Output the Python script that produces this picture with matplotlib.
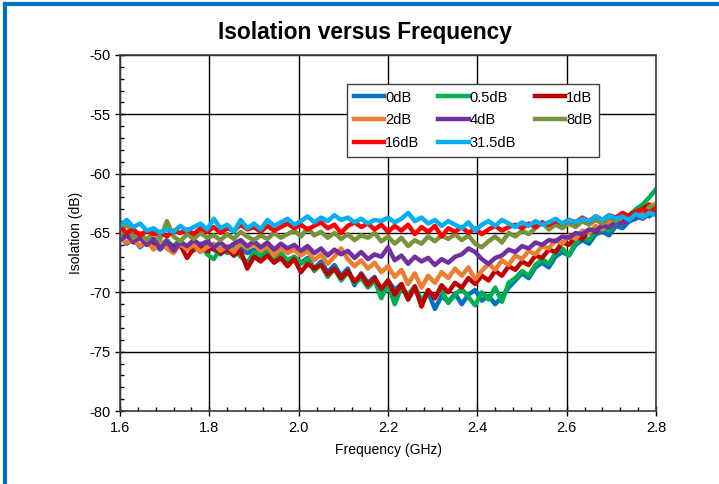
import numpy as np
import matplotlib.pyplot as plt
from matplotlib.lines import Line2D
from matplotlib.ticker import MultipleLocator

plt.rcParams['font.family'] = ['Liberation Sans', 'DejaVu Sans']
plt.rcParams['axes.unicode_minus'] = False

# frequency sweep (GHz)
freq = np.linspace(1.6, 2.8, 81)

iso_0db = [-65.3, -65.9, -65.5, -66.2, -65.7, -65.9, -66.4, -65.8, -66.1, -65.6,
           -66.3, -66.0, -66.6, -65.9, -66.4, -66.8, -66.2, -66.9, -66.3, -66.7,
           -66.4, -67.2, -66.6, -67.4, -66.8, -67.6, -67.0, -67.5, -67.1, -68.0,
           -67.4, -68.3, -67.7, -68.6, -68.0, -69.4, -68.4, -69.2, -68.7, -70.1,
           -69.0, -69.8, -69.3, -70.6, -69.6, -70.9, -70.0, -71.4, -70.3, -70.8,
           -70.1, -71.0, -70.2, -69.8, -70.7, -70.3, -71.0, -70.4, -69.6, -69.0,
           -68.4, -68.8, -67.9, -67.5, -67.9, -67.0, -66.6, -66.9, -66.0, -65.6,
           -65.9, -65.1, -64.9, -65.2, -64.4, -64.6, -64.0, -63.8, -63.3, -63.6, -63.1]

iso_05db = [-65.4, -65.0, -65.7, -65.3, -65.9, -65.5, -66.0, -65.6, -66.2, -65.8,
            -66.1, -66.5, -65.9, -66.8, -67.2, -66.3, -66.7, -66.2, -67.0, -67.5,
            -66.6, -66.9, -66.4, -67.1, -66.7, -67.3, -67.0, -67.6, -67.2, -68.2,
            -67.6, -68.7, -68.0, -69.0, -68.3, -69.2, -68.8, -69.6, -69.0, -70.5,
            -69.3, -71.0, -69.6, -70.2, -69.5, -70.7, -69.9, -70.4, -69.8, -70.9,
            -70.2, -69.7, -70.4, -71.1, -70.0, -70.6, -69.6, -70.8, -69.2, -68.8,
            -68.2, -68.6, -67.7, -67.2, -67.6, -66.7, -66.3, -66.9, -65.8, -65.3,
            -65.6, -64.8, -64.5, -64.8, -64.0, -64.2, -63.5, -63.0, -62.6, -62.0, -61.3]

iso_1db = [-65.6, -65.2, -65.8, -65.4, -66.0, -65.7, -66.1, -65.8, -66.2, -66.0,
           -67.1, -66.3, -66.1, -66.5, -66.2, -66.7, -66.4, -66.9, -66.5, -68.0,
           -67.0, -67.4, -66.9, -67.5, -67.1, -67.8, -67.2, -68.3, -67.6, -68.0,
           -67.7, -68.5, -68.0, -68.8, -68.2, -69.1, -68.5, -69.4, -68.8, -69.7,
           -69.0, -70.2, -69.3, -70.6, -69.5, -71.2, -69.8, -70.5, -69.4, -70.0,
           -69.2, -69.6, -68.8, -69.3, -68.6, -69.0, -68.2, -68.6, -67.8, -68.1,
           -67.4, -67.7, -66.9, -67.1, -66.4, -66.6, -65.8, -66.0, -65.3, -65.5,
           -64.8, -64.9, -64.3, -64.5, -63.9, -64.0, -63.5, -63.2, -63.0, -62.6, -62.8]

iso_2db = [-65.4, -65.8, -65.5, -66.1, -65.6, -66.4, -65.8, -66.3, -66.7, -65.9,
           -66.4, -66.0, -66.6, -66.2, -65.9, -66.5, -66.1, -66.6, -65.8, -66.3,
           -65.9, -66.5, -66.1, -66.9, -66.3, -66.7, -66.4, -66.9, -66.5, -67.3,
           -66.8, -67.6, -67.0, -66.3, -67.2, -67.8, -67.3, -68.0, -67.5, -68.3,
           -67.8, -68.7, -68.1, -69.3, -68.4, -69.6, -68.6, -69.2, -68.3, -68.8,
           -68.0, -68.6, -67.9, -68.9, -68.2, -67.6, -68.1, -67.3, -67.7, -66.9,
           -67.2, -66.5, -66.8, -66.1, -66.3, -65.6, -65.9, -65.2, -65.5, -64.8,
           -65.0, -64.4, -64.7, -64.0, -64.2, -63.6, -63.8, -63.2, -63.5, -62.8, -62.5]

iso_4db = [-65.6, -65.2, -65.7, -65.4, -66.0, -65.5, -66.3, -65.7, -66.5, -65.8,
           -66.1, -65.6, -66.0, -65.7, -66.2, -65.8, -66.3, -65.9, -65.6, -66.1,
           -65.7, -66.2, -65.8, -66.4, -65.9, -66.3, -66.0, -66.5, -66.1, -66.7,
           -66.3, -66.9, -66.4, -66.8, -66.5, -67.1, -66.6, -67.2, -66.8, -67.0,
           -66.2, -67.3, -66.9, -67.6, -67.0, -67.4, -67.1, -67.7, -67.2, -67.5,
           -67.0, -66.8, -66.3, -66.6, -67.2, -67.6, -67.1, -66.9, -66.4, -66.6,
           -66.1, -66.3, -65.8, -66.0, -65.6, -65.7, -65.3, -65.4, -65.0, -65.1,
           -64.7, -64.8, -64.4, -64.5, -64.1, -64.2, -63.9, -63.6, -63.8, -63.4, -63.2]

iso_8db = [-65.2, -64.1, -65.4, -65.0, -65.6, -64.9, -65.5, -64.0, -65.3, -65.7,
           -65.1, -65.5, -65.0, -65.4, -65.2, -65.6, -65.1, -65.5, -64.9, -65.3,
           -65.6, -65.2, -65.5, -65.0, -65.4, -65.1, -64.8, -65.3, -64.6, -65.2,
           -64.9, -65.4, -65.0, -65.5, -65.1, -65.6, -65.2, -65.4, -65.0, -65.7,
           -65.3, -65.9, -65.4, -66.1, -65.6, -65.9, -65.3, -65.7, -65.2, -65.5,
           -65.1, -65.6, -65.2, -65.9, -66.2, -65.7, -65.3, -65.8, -65.0, -65.3,
           -64.8, -65.1, -64.6, -64.1, -64.7, -64.3, -64.6, -64.2, -64.5, -64.0,
           -64.3, -63.9, -64.2, -63.7, -64.0, -63.5, -63.7, -63.2, -63.4, -62.9, -62.7]

iso_16db = [-64.5, -65.0, -64.7, -65.2, -64.8, -65.1, -64.9, -65.3, -64.8, -65.0,
            -64.7, -65.1, -64.6, -64.9, -64.5, -65.0, -64.6, -64.8, -64.3, -64.7,
            -64.5, -64.9, -64.4, -64.8, -64.5, -64.2, -64.6, -64.3, -64.7, -64.4,
            -64.1, -64.6, -64.3, -65.0, -64.4, -64.1, -64.5, -64.2, -64.7, -64.3,
            -64.9, -64.4, -64.8, -64.3, -65.1, -64.5, -64.9, -64.4, -65.3, -64.6,
            -64.9, -64.5, -65.0, -64.6, -65.1, -64.7, -64.4, -64.8, -64.5, -64.3,
            -64.6, -64.2, -64.5, -64.1, -64.3, -64.0, -64.2, -63.9, -64.1, -63.7,
            -64.0, -63.6, -63.9, -63.5, -63.7, -63.3, -63.6, -63.2, -63.0, -63.3, -62.9]

iso_315db = [-64.4, -63.9, -64.5, -64.2, -64.8, -64.6, -65.0, -64.7, -64.9, -64.4,
             -64.8, -64.5, -64.2, -64.7, -63.8, -64.6, -64.3, -64.9, -63.9, -64.6,
             -64.2, -64.7, -63.9, -64.4, -64.1, -63.8, -64.3, -64.0, -63.6, -64.1,
             -63.7, -64.0, -63.5, -63.9, -63.7, -64.1, -63.8, -64.2, -63.9, -64.0,
             -63.7, -64.1, -63.8, -63.3, -64.0, -63.7, -64.2, -63.9, -64.4, -64.0,
             -64.3, -64.6, -64.1, -64.8, -64.3, -64.0, -64.4, -63.9, -64.2, -64.5,
             -64.1, -64.4, -64.0, -64.3, -64.1, -63.8, -64.2, -63.9, -64.1, -63.8,
             -64.0, -63.6, -63.9, -63.5, -63.8, -63.6, -63.9, -63.4, -63.7, -63.3, -63.5]

labels = ['0dB', '0.5dB', '1dB', '2dB', '4dB', '8dB', '16dB', '31.5dB']
series = [iso_0db, iso_05db, iso_1db, iso_2db, iso_4db, iso_8db, iso_16db, iso_315db]
colors = ['#0070C0', '#00B050', '#C00000', '#ED7D31',
          '#7030A0', '#77933C', '#FF0000', '#00B0F0']

fig = plt.figure(figsize=(7.19, 4.84), dpi=100)
ax = fig.add_axes([0.1669, 0.1508, 0.7455, 0.7356])

lines = []
for vals, lab, col in zip(series, labels, colors):
    ln, = ax.plot(freq, vals, color=col, lw=3.2, label=lab, solid_joinstyle='round')
    lines.append(ln)

ax.set_xlim(1.6, 2.8)
ax.set_ylim(-80, -50)
ax.xaxis.set_major_locator(MultipleLocator(0.2))
ax.xaxis.set_minor_locator(MultipleLocator(0.04))
ax.yaxis.set_major_locator(MultipleLocator(5))
ax.yaxis.set_minor_locator(MultipleLocator(1))
ax.set_xticklabels([f'{v:.1f}' for v in ax.get_xticks()])
ax.grid(True, which='major', color='black', lw=1.0)
ax.set_axisbelow(True)
ax.tick_params(which='major', direction='inout', length=7, width=1, labelsize=10.5)
ax.tick_params(which='minor', direction='in', length=3, width=1)
for s in ax.spines.values():
    s.set_color('#404040')
    s.set_linewidth(1.2)

ax.set_xlabel('Frequency (GHz)', fontsize=10, labelpad=6)
ax.set_ylabel('Isolation (dB)', fontsize=10, labelpad=4)
fig.text(0.508, 0.932, 'Isolation versus Frequency', ha='center', va='center',
         fontsize=16.4, fontweight='bold')

# legend filled row by row, as in the reference
order = [0, 3, 6, 1, 4, 7, 2, 5]
leg = ax.legend([lines[i] for i in order], [labels[i] for i in order],
                ncol=3, loc='upper left', bbox_to_anchor=(0.4235, 0.9185),
                borderaxespad=0, fontsize=10.5, frameon=True, fancybox=False,
                framealpha=1, handlelength=2.1, handletextpad=0.05,
                columnspacing=1.3, borderpad=0.45, labelspacing=0.6)
leg.get_frame().set_edgecolor('#404040')
leg.get_frame().set_linewidth(1.0)

# blue frame on the left and top edges
fig.add_artist(Line2D([5 / 719, 5 / 719], [0, 1 - 4 / 484],
                      transform=fig.transFigure, color='#0070C0', lw=3))
fig.add_artist(Line2D([5 / 719, 1], [1 - 4 / 484, 1 - 4 / 484],
                      transform=fig.transFigure, color='#0070C0', lw=3))

fig.savefig('out.png', dpi=100)
